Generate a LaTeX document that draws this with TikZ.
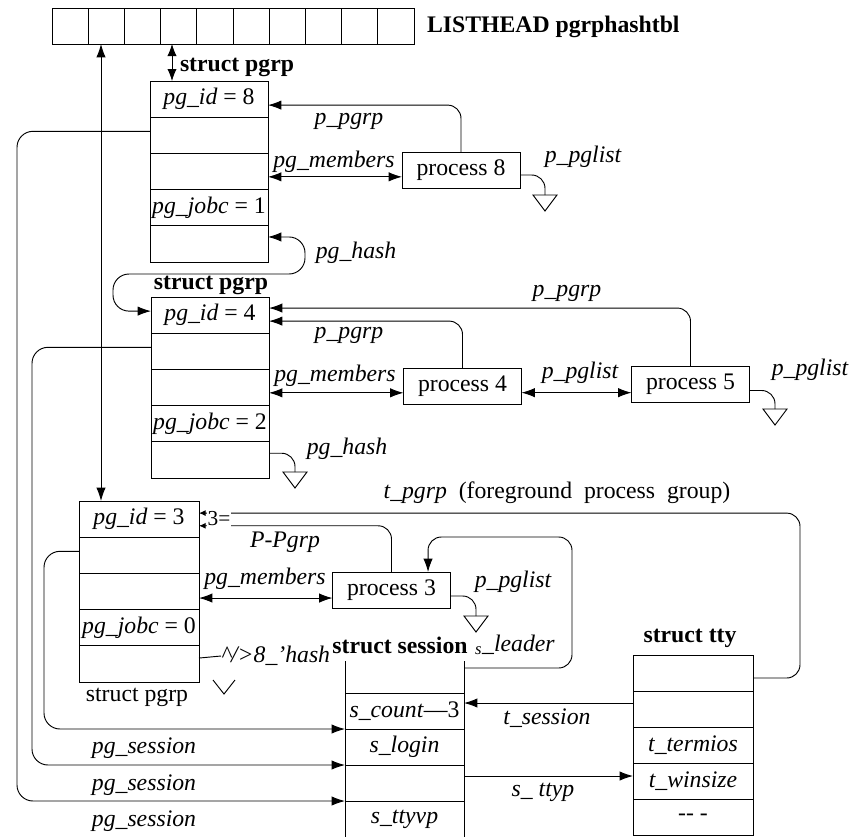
\documentclass[tikz,border=0pt]{standalone}
\usepackage{fontspec}
\setmainfont{Liberation Serif}
\usetikzlibrary{arrows.meta}
\begin{document}
\begin{tikzpicture}[x=0.75pt,y=-0.75pt,line width=0.7pt,
  every node/.style={font=\fontsize{17.8}{20}\selectfont, inner sep=0pt, outer sep=0pt},
  cell/.style={draw, minimum width=27.15pt, minimum height=27pt},
  row/.style={draw, minimum width=88.5pt, minimum height=27.15pt},
  rowc/.style={draw, minimum width=90pt, minimum height=27.15pt},
  srow/.style={minimum width=89.25pt, minimum height=27pt},
  trow/.style={draw, minimum width=90pt, minimum height=27pt},
  proc/.style={draw, minimum width=88.5pt, minimum height=27pt},
  lbl/.style={font=\fontsize{17.8}{20}\selectfont\itshape},
  hd/.style={font=\fontsize{17.8}{20}\selectfont\bfseries},
  conn/.style={rounded corners=10pt},
  ar/.style={conn, -{Latex[length=10pt,width=7pt]}},
  dar/.style={conn, {Latex[length=10pt,width=7pt]}-{Latex[length=10pt,width=7pt]}},
  sar/.style={conn, -{Latex[length=5pt,width=4.5pt]}},
  gnd/.pic={\draw (-12,0) -- (12,0) -- (0,16) -- cycle;},
  vee/.pic={\draw (-11,0) -- (0,14) -- (11,0);}
]
\useasboundingbox (0,0) rectangle (866,836);

% hash table
\foreach \i in {1,...,10} {
  \node[cell] (h\i) at ({52+18.1+36.2*(\i-1)},26) {};
}
\node[hd, anchor=west] (lhead) at (427,27) {LISTHEAD pgrphashtbl};

% struct pgrp 8
\node[hd, anchor=west] (lsp1) at (180,67) {struct pgrp};
\node[row] (b1r1) at (209,99.1) {\textit{pg\_id} = 8};
\node[row] (b1r2) at (209,135.3) {};
\node[row] (b1r3) at (209,171.5) {};
\node[row] (b1r4) at (209,207.7) {\textit{pg\_jobc} = 1};
\node[row] (b1r5) at (209,243.9) {};

% struct pgrp 4
\node[hd] (lsp2) at (211,285) {struct pgrp};
\node[row] (b2r1) at (210,315.1) {\textit{pg\_id} = 4};
\node[row] (b2r2) at (210,351.3) {};
\node[row] (b2r3) at (210,387.5) {};
\node[row] (b2r4) at (210,423.7) {\textit{pg\_jobc} = 2};
\node[row] (b2r5) at (210,459.9) {};

% struct pgrp 3
\node[rowc] (b3r1) at (139,519.1) {\textit{pg\_id} = 3};
\node[rowc] (b3r2) at (139,555.3) {};
\node[rowc] (b3r3) at (139,591.5) {};
\node[rowc] (b3r4) at (139,627.7) {\textit{pg\_jobc} = 0};
\node[rowc] (b3r5) at (139,663.9) {};
\node (lsp3) at (137,697) {struct pgrp};

% processes
\node[proc] (p8) at (461,170) {process 8};
\node[proc] (p4) at (462.5,386) {process 4};
\node[proc] (p5) at (690.5,384.5) {process 5};
\node[proc] (p3) at (391.5,590) {process 3};

% struct session
\node[hd] (lss) at (400,645) {struct session};
\node[srow, minimum height=24pt] (s0) at (404.5,677) {};
\node[srow] (s1) at (404.5,711) {\textit{s\_count}—3};
\node[srow] (s2) at (404.5,747) {\textit{s\_login}};
\node[srow] (s3) at (404.5,783) {};
\node[srow] (s4) at (404.5,819) {\textit{s\_ttyvp}};
\draw (s0.north west) -- (s4.south west);
\draw (s0.north east) -- (s4.south east);
\draw (s1.north west) -- (s1.north east);
\draw (s2.north west) -- (s2.north east);
\draw (s3.north west) -- (s3.north east);
\draw (s4.north west) -- (s4.north east);

% struct tty
\node[hd] (lst) at (690,638) {struct tty};
\node[trow] (t1) at (693,673) {};
\node[trow] (t2) at (693,709) {};
\node[trow] (t3) at (693,745) {\textit{t\_termios}};
\node[trow] (t4) at (693,781) {\textit{t\_winsize}};
\node[trow] (t5) at (693,817) {\textit{-{}- -}};

% helper coordinates
\coordinate (va) at (101,0);
\coordinate (vb) at (172,0);
\coordinate (hk1) at (305,274);
\coordinate (hk2) at (113,311.1);
\coordinate (tp) at (800,513.1);
\coordinate (sl) at (572,537);
\coordinate (ps1) at (44,600);
\coordinate (ps2) at (32,600);
\coordinate (ps3) at (17,600);
\coordinate (g8) at (545,195);
\coordinate (g5) at (775,409);
\coordinate (g2) at (295,472);
\coordinate (g3) at (476,616);
\coordinate (gv) at (224,680);

% hash links
\draw[dar] (h2.south -| va) -- (b3r1.north -| va);
\draw[{Latex[length=9pt,width=7pt]}-{Latex[length=9pt,width=7pt]}] (h4.south -| vb) -- (b1r1.north -| vb);

% group 8
\draw[ar] (p8.north) |- ([yshift=-4.5pt]b1r1.east);
\node[lbl] (l1) at (349,121) {p\_pgrp};
\draw[dar] ([yshift=-4pt]b1r3.east) -- ([yshift=-4pt]b1r3.east -| p8.west);
\node[lbl] (l2) at (334,162) {pg\_members};
\draw[conn] ([yshift=-3.75pt]p8.east) -| (g8);
\pic at (g8) {gnd};
\node[lbl] (l3) at (583,157) {p\_pglist};
\draw[dar, rounded corners=12pt] ([yshift=5.2pt]b1r5.east) -| (hk1) -| (hk2) -- ([yshift=3pt]b2r1.west);
\node[lbl] (l4) at (356,253) {pg\_hash};

% group 4
\draw[ar] (p5.north) |- ([yshift=5.3pt]b2r1.east);
\node[lbl] (l5) at (567,293) {p\_pgrp};
\draw[ar] (p4.north) |- ([yshift=-4.5pt]b2r1.east);
\node[lbl] (l6) at (349,335) {p\_pgrp};
\draw[dar] ([yshift=-4pt]b2r3.east) -- ([yshift=-4pt]b2r3.east -| p4.west);
\node[lbl] (l7) at (335,376) {pg\_members};
\draw[dar] ([yshift=-5pt]p4.east) -- ([yshift=-5pt]p4.east -| p5.west);
\node[lbl] (l8) at (580,373) {p\_pglist};
\draw[conn] ([yshift=-4.5pt]p5.east) -| (g5);
\pic at (g5) {gnd};
\node[lbl] (l9) at (810,370) {p\_pglist};
\draw[conn] ([yshift=5pt]b2r5.east) -| (g2);
\pic at (g2) {gnd};
\node[lbl] (l10) at (347,449) {pg\_hash};

% group 3
\draw[sar] ([yshift=-3.75pt]t1.east) -| (tp) -- ([yshift=4.5pt]b3r1.east);
\node (l11) at (557,493) {\textit{t\_pgrp} \ (foreground \ process \ group)};
\draw[sar] (p3.north) |- ([yshift=-5pt]b3r1.east);
\node[lbl] (l12) at (285,542) {P-Pgrp};
\node[fill=white, inner sep=0.4pt, font=\fontsize{16}{18}\selectfont] (three) at (219,519) {3=};
\draw[dar] ([yshift=-4.9pt]b3r3.east) -- ([yshift=-4.9pt]b3r3.east -| p3.west);
\node[lbl] (l13) at (265,579) {pg\_members};
\draw[conn] ([yshift=-4.5pt]p3.east) -| (g3);
\pic at (g3) {gnd};
\node[lbl] (l14) at (513,582) {p\_pglist};
\node[lbl, anchor=west] (gh) at (221,656) {\textasciicircum/>8\_'hash};
\draw ([yshift=4.4pt]b3r5.east) -- (gh.west);
\pic at (gv) {vee};

% session links
\draw[ar] ([yshift=6.75pt]s0.east) -| (sl) -| ([xshift=27.4pt]p3.north);
\node[lbl, anchor=west] (l15) at (475,645) {\textsubscript{s}\_leader};
\draw[ar] ([yshift=4.5pt]t2.west) -- ([yshift=4.5pt]t2.west -| s1.east);
\node[lbl] (l16) at (547,718) {t\_session};
\draw[ar] ([yshift=5.25pt]s3.east) -- ([yshift=5.25pt]s3.east -| t4.west);
\node[lbl] (l17) at (543,792) {s\_ ttyp};

% pg_session
\draw[ar, rounded corners=12pt] ([yshift=3pt]b3r2.west) -| (ps1) |- (s1.south west);
\draw[ar, rounded corners=12pt] ([yshift=3pt]b2r2.west) -| (ps2) |- (s2.south west);
\draw[ar, rounded corners=12pt] ([yshift=3pt]b1r2.west) -| (ps3) |- (s3.south west);
\node[lbl] (l18) at (144,748) {pg\_session};
\node[lbl] (l19) at (144,785) {pg\_session};
\node[lbl] (l20) at (144,821) {pg\_session};
\end{tikzpicture}
\end{document}
